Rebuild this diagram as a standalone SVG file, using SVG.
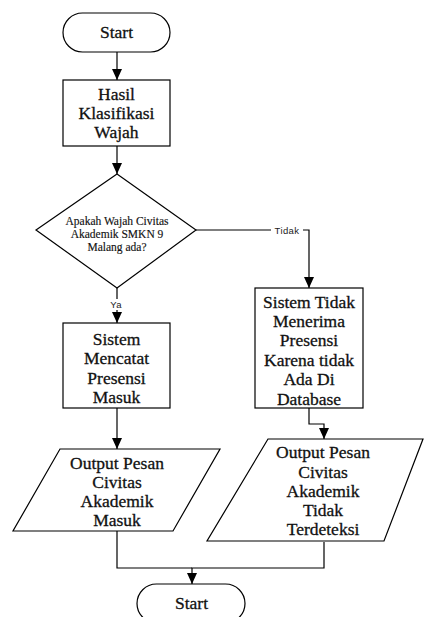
<svg xmlns="http://www.w3.org/2000/svg" width="429" height="617" viewBox="0 0 429 617">
<defs>
<marker id="arr" markerUnits="userSpaceOnUse" markerWidth="11" markerHeight="11" viewBox="0 0 11 10" refX="11" refY="5" orient="auto">
<path d="M0,0 L11,5 L0,10 Z" fill="#000"/>
</marker>
</defs>
<style>
.s{fill:#fff;stroke:#000;stroke-width:1.2}
.t{font-family:"Liberation Serif","Times New Roman",serif;font-size:17.5px;fill:#111;stroke:#111;stroke-width:0.3px;text-anchor:middle}
.d{font-family:"Liberation Serif","Times New Roman",serif;font-size:11.5px;fill:#111;stroke:#111;stroke-width:0.15px;text-anchor:middle}
.l{font-family:"Liberation Sans",Arial,sans-serif;font-size:9.5px;fill:#222;text-anchor:middle;letter-spacing:0.4px}
.c{fill:none;stroke:#000;stroke-width:1.2}
</style>
<rect width="429" height="617" fill="#fff"/>
<g id="connectors">
<path class="c" d="M117,52 V80" marker-end="url(#arr)"/>
<path class="c" d="M117,146 V174" marker-end="url(#arr)"/>
<path class="c" d="M196,230 H271 M303,230 H309 V288" marker-end="url(#arr)"/>
<path class="c" d="M117,288 V299 M117,310 V323" marker-end="url(#arr)"/>
<path class="c" d="M117,408 V449" marker-end="url(#arr)"/>
<path class="c" d="M309,408 V424 H324 V439" marker-end="url(#arr)"/>
<path class="c" d="M117,531 V568 H192"/>
<path class="c" d="M324,542 V568 H192 V584" marker-end="url(#arr)"/>
<text class="l" x="287" y="233.5">Tidak</text>
<text class="l" x="116" y="308">Ya</text>
</g>
<g id="start">
<rect class="s" x="63" y="13" width="107" height="39" rx="19.5"/>
<text class="t" x="116.5" y="38">Start</text>
</g>
<g id="hasil">
<rect class="s" x="63" y="80" width="107" height="66"/>
<text class="t" x="116.5" y="100">Hasil</text>
<text class="t" x="116.5" y="119">Klasifikasi</text>
<text class="t" x="116.5" y="138">Wajah</text>
</g>
<g id="decision">
<polygon class="s" points="117,174 196,230 117,288 36,230"/>
<text class="d" x="117" y="225">Apakah Wajah Civitas</text>
<text class="d" x="117" y="238">Akademik SMKN 9</text>
<text class="d" x="117" y="251">Malang ada?</text>
</g>
<g id="mencatat">
<rect class="s" x="63" y="323" width="107" height="85"/>
<text class="t" x="116.5" y="345">Sistem</text>
<text class="t" x="116.5" y="364.3">Mencatat</text>
<text class="t" x="116.5" y="383.5">Presensi</text>
<text class="t" x="116.5" y="402.7">Masuk</text>
</g>
<g id="tidakmenerima">
<rect class="s" x="255" y="288" width="108" height="120"/>
<text class="t" x="309" y="307.5">Sistem Tidak</text>
<text class="t" x="309" y="326.9">Menerima</text>
<text class="t" x="309" y="346.3">Presensi</text>
<text class="t" x="309" y="365.7">Karena tidak</text>
<text class="t" x="309" y="385.1">Ada Di</text>
<text class="t" x="309" y="404.5">Database</text>
</g>
<g id="outmasuk">
<polygon class="s" points="60,449 220,449 173,531 13,531"/>
<text class="t" x="117" y="469.3">Output Pesan</text>
<text class="t" x="117" y="488.3">Civitas</text>
<text class="t" x="117" y="507.3">Akademik</text>
<text class="t" x="117" y="526">Masuk</text>
</g>
<g id="outtidak">
<polygon class="s" points="268,439 423,439 384,541 207,541"/>
<text class="t" x="323" y="458.3">Output Pesan</text>
<text class="t" x="323" y="477.5">Civitas</text>
<text class="t" x="323" y="496.7">Akademik</text>
<text class="t" x="323" y="515.9">Tidak</text>
<text class="t" x="323" y="535.1">Terdeteksi</text>
</g>
<g id="end">
<rect class="s" x="137" y="584" width="108" height="39" rx="19.5"/>
<text class="t" x="191.5" y="608.5">Start</text>
</g>
</svg>
